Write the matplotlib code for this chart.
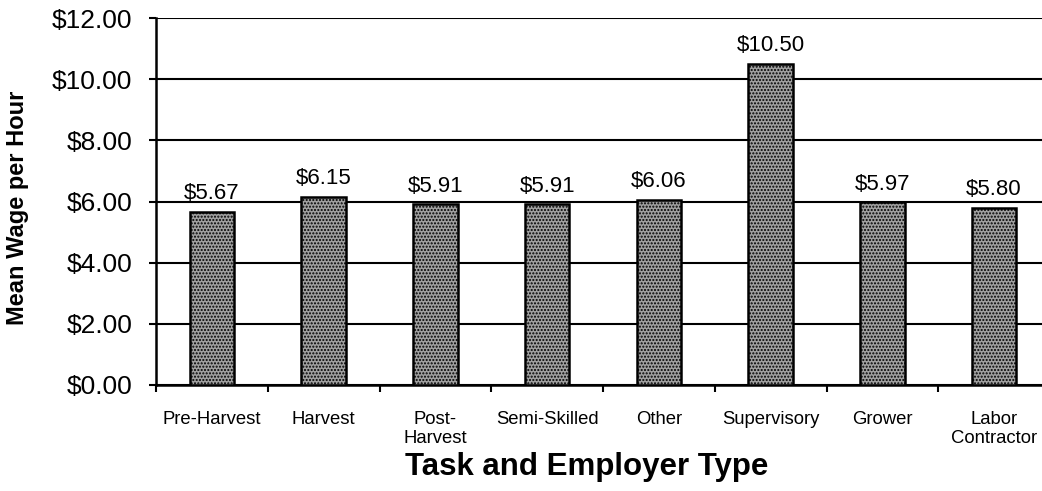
import matplotlib
matplotlib.use("Agg")
import matplotlib.pyplot as plt
import numpy as np

categories = ["Pre-Harvest", "Harvest", "Post-\nHarvest", "Semi-Skilled", "Other",
              "Supervisory", "Grower", "Labor\nContractor"]
wages = [5.67, 6.15, 5.91, 5.91, 6.06, 10.50, 5.97, 5.80]
yticks = [0, 2, 4, 6, 8, 10, 12]

plt.rcParams['font.family'] = ['Liberation Sans', 'DejaVu Sans']
plt.rcParams['hatch.color'] = '#505050'
plt.rcParams['hatch.linewidth'] = 1.0

fig = plt.figure(figsize=(10.42, 4.91), dpi=100)
ax = fig.add_axes([156/1042, 1-385/491, (1050-156)/1042, (385-18)/491])

x = np.arange(len(categories))
bars = ax.bar(x, wages, width=0.4, color='#a0a0a0', edgecolor='black',
              linewidth=1.8, hatch='.....', zorder=3)
for xi, v in zip(x, wages):
    ax.annotate(f"${v:.2f}", (xi, v), xytext=(0, 5.5), textcoords='offset points',
                ha='center', va='bottom', fontsize=16)

ax.set_xlim(-0.5, len(categories) - 0.5)
ax.set_ylim(0, 12)
ax.set_yticks(yticks)
ax.set_yticklabels([f"${t:.2f}" for t in yticks], fontsize=19)
ax.yaxis.grid(True, color='black', linewidth=1.5, zorder=0)
ax.set_axisbelow(True)

ax.set_xticks(x)
ax.set_xticklabels(categories, fontsize=13.3, linespacing=1.15)
ax.set_xticks(np.arange(len(categories) + 1) - 0.5, minor=True)
ax.tick_params(axis='x', which='major', length=0, pad=19)
ax.tick_params(axis='x', which='minor', length=5, width=1.5, direction='out')
ax.tick_params(axis='y', length=5, width=1.5, direction='out', pad=12)

for s in ['top', 'right']:
    ax.spines[s].set_visible(False)
ax.spines['left'].set_linewidth(1.8)
ax.spines['bottom'].set_linewidth(1.8)

fig.text(18/1042, 1-208/491, "Mean Wage per Hour", rotation=90, ha='center', va='center',
         fontsize=17, fontweight='bold')
fig.text(587/1042, 1-467/491, "Task and Employer Type", ha='center', va='center',
         fontsize=22.5, fontweight='bold')

fig.savefig("out.png", dpi=100)
